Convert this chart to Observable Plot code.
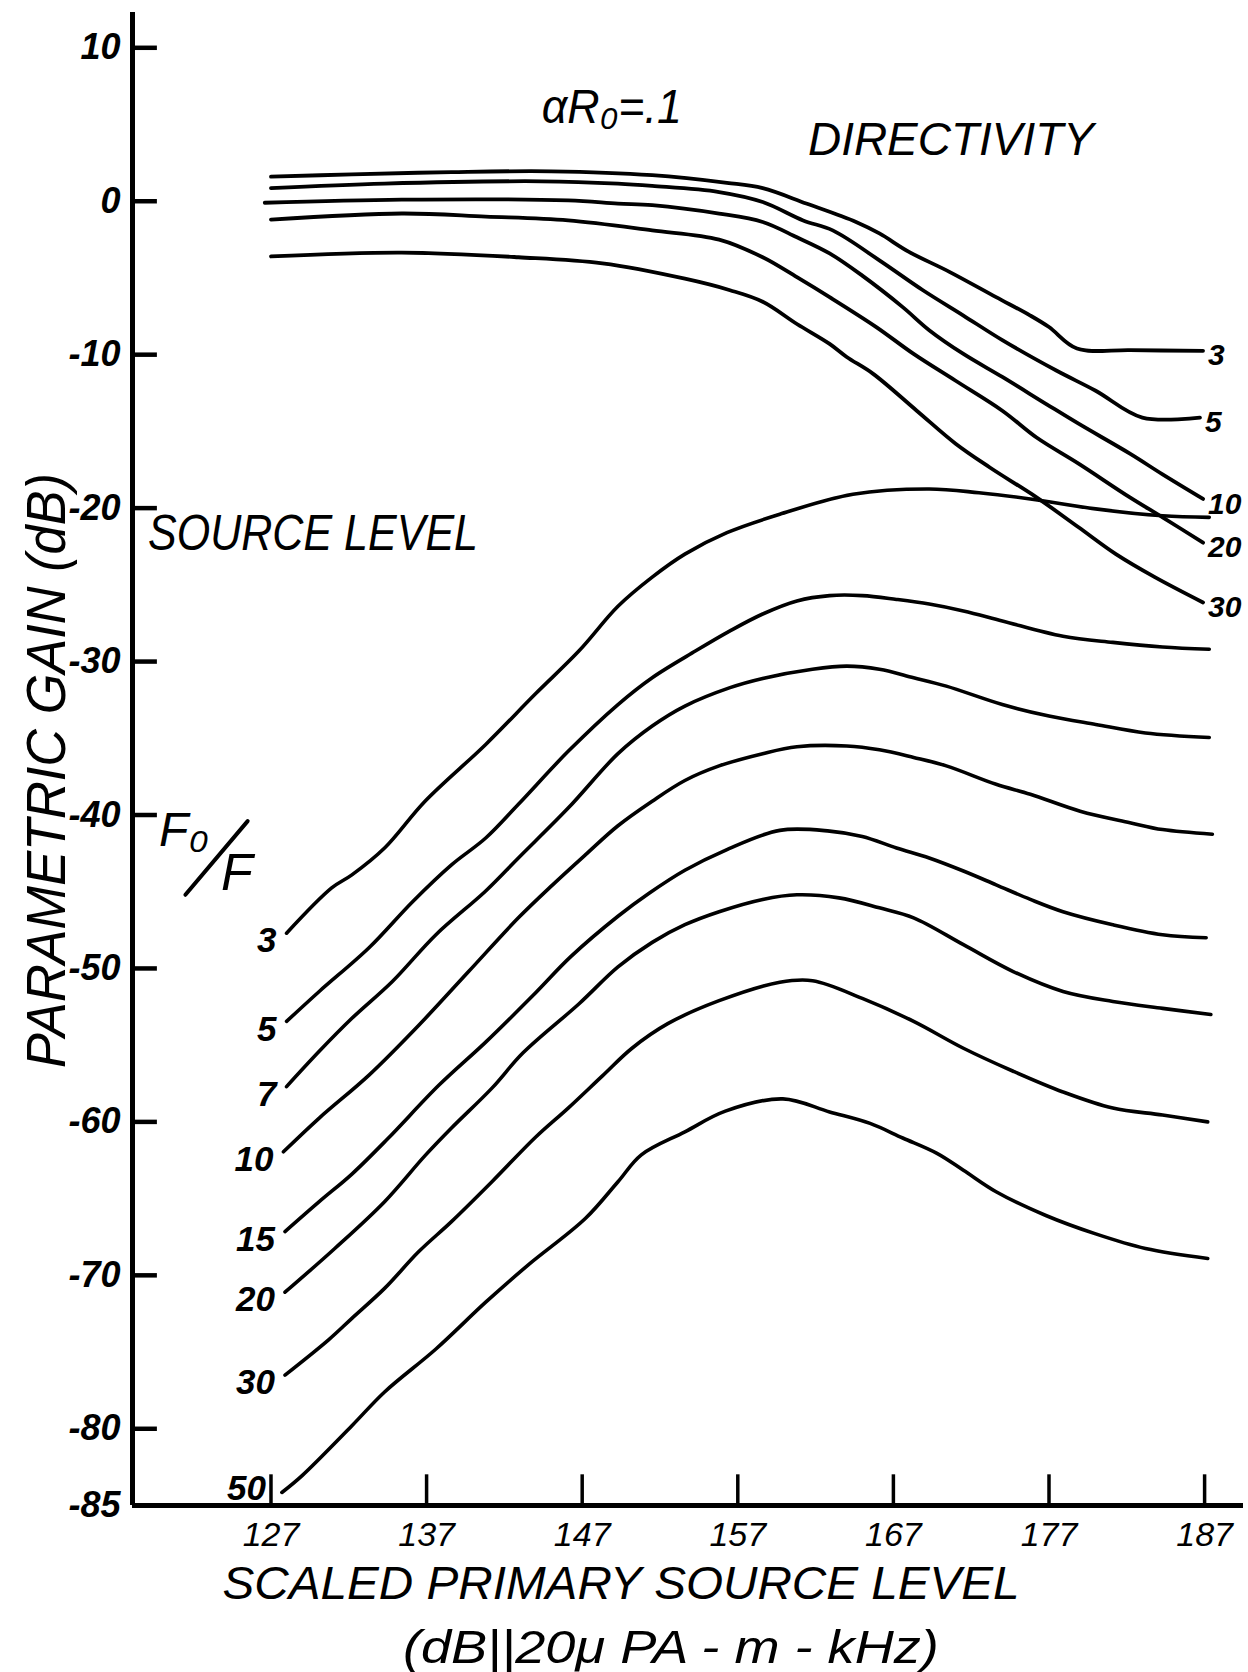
<!DOCTYPE html>
<html>
<head>
<meta charset="utf-8">
<script src="https://cdn.jsdelivr.net/npm/d3@7"></script>
<script src="https://cdn.jsdelivr.net/npm/@observablehq/plot@0.6"></script>
<style>
  html, body { margin: 0; padding: 0; background: #fff; }
  #chart svg { display: block; }
</style>
</head>
<body>
<div id="chart"></div>
<script>
// ---- Data (x = scaled primary source level, y = parametric gain dB) ----
const xTicks = [127, 137, 147, 157, 167, 177, 187];
const yTicks = [10, 0, -10, -20, -30, -40, -50, -60, -70, -80, -85];

// Upper family: directivity curves
const directivityNames = ["3", "5", "10", "20", "30"];
const directivity3 = [[127,1.6],[132.2,1.75],[138.6,1.9],[145,1.95],[151.5,1.7],[156.3,1.2],[158.6,0.85],[161.4,-0.15],[164.6,-1.35],[166.1,-2.1],[168,-3.3],[170.6,-4.6],[173.6,-6.25],[175.8,-7.45],[177,-8.2],[178.8,-9.6],[182.2,-9.7],[186.9,-9.75]];
const directivity5 = [[127,0.85],[134.3,1.15],[144.4,1.3],[149.3,1.15],[151.5,1.0],[155.8,0.6],[158.6,-0.05],[161.2,-1.25],[163.1,-1.9],[166.1,-3.85],[168.9,-5.8],[171.5,-7.45],[174,-9.05],[177.5,-11.05],[180,-12.35],[183,-14.1],[186.7,-14.1]];
const directivity10 = [[126.6,-0.1],[135.4,0.1],[146.1,0.05],[149.3,-0.15],[151.5,-0.25],[155.8,-0.8],[158.6,-1.35],[160.8,-2.35],[162.9,-3.4],[165,-4.85],[167.6,-6.9],[169.3,-8.4],[171.5,-9.95],[174,-11.45],[176.8,-13.2],[178.9,-14.5],[182.2,-16.45],[184.3,-17.8],[186.9,-19.4]];
const directivity20 = [[127,-1.2],[135.4,-0.8],[140.8,-1.0],[146.1,-1.25],[151.5,-1.9],[155.8,-2.5],[158.6,-3.65],[160.8,-4.95],[162.9,-6.25],[165.9,-8.2],[168.3,-9.95],[171,-11.7],[174,-13.65],[176.2,-15.4],[178.9,-17.1],[182.2,-19.3],[184.3,-20.6],[186.9,-22.25]];
const directivity30 = [[127,-3.6],[135.4,-3.35],[142.9,-3.65],[148.3,-4.05],[153.6,-5.05],[156.5,-5.8],[158.6,-6.55],[160.8,-8.0],[162.9,-9.3],[164,-10.15],[165.7,-11.25],[168.5,-13.65],[171,-15.8],[173.2,-17.35],[176.2,-19.3],[178.9,-21.25],[181.3,-23],[183.8,-24.5],[186.9,-26.15]];

// Lower family: source level curves, F0/F ratio
const ratioNames = ["3", "5", "7", "10", "15", "20", "30", "50"];
const ratio3 = [[128,-47.7],[130.9,-44.75],[132.2,-43.9],[134.3,-42.15],[136.9,-39.1],[140.8,-35.4],[144,-32.1],[146.8,-29.3],[149.3,-26.4],[151.5,-24.5],[153.6,-23],[156.3,-21.6],[159.7,-20.4],[164.4,-19.1],[169.3,-18.75],[172.5,-19],[175.8,-19.4],[180,-20.05],[184.3,-20.5],[187.3,-20.6]];
const ratio5 = [[128,-53.45],[130.1,-51.5],[133.3,-48.65],[136.1,-45.65],[138.6,-43.25],[140.8,-41.5],[142.9,-39.3],[146.1,-35.85],[149.3,-32.8],[151.5,-31.05],[154.3,-29.3],[156.5,-28],[158.6,-26.9],[160.8,-26.05],[162.9,-25.7],[165,-25.7],[167.2,-25.95],[169.3,-26.25],[171.5,-26.7],[174,-27.35],[177.9,-28.35],[181.1,-28.75],[184.3,-29.05],[187.3,-29.2]];
const ratio7 = [[128,-57.7],[130.1,-55.4],[132.2,-53.25],[134.8,-50.85],[137.6,-47.8],[140.8,-44.95],[142.9,-42.8],[146.1,-39.55],[149.3,-36.0],[151.5,-34.2],[153.6,-32.9],[156.5,-31.7],[158.6,-31.1],[161.8,-30.5],[164,-30.3],[166.1,-30.5],[168.3,-31.05],[170.4,-31.6],[174,-32.8],[177,-33.55],[180,-34.1],[183.2,-34.65],[187.3,-34.95]];
const ratio10 = [[127.8,-61.95],[130.1,-59.75],[133.3,-56.95],[136.5,-53.7],[139.7,-50.2],[142.9,-46.7],[145.1,-44.55],[147.2,-42.6],[149.3,-40.7],[151.5,-39.1],[153.6,-37.75],[155.8,-36.8],[158.6,-36.0],[160.8,-35.55],[164,-35.5],[166.1,-35.75],[168.3,-36.25],[170.4,-36.8],[173.6,-38],[175.8,-38.65],[179,-39.75],[182.2,-40.5],[184.3,-40.95],[187.5,-41.25]];
const ratio15 = [[127.9,-67.15],[130.1,-65.2],[132.2,-63.4],[134.5,-61.1],[137.8,-57.6],[140.8,-54.8],[143.8,-51.8],[146.3,-49.2],[149.3,-46.6],[151.3,-45.1],[153.6,-43.6],[156.2,-42.3],[159.7,-41.0],[162.9,-41.05],[165,-41.4],[167.2,-42.15],[169.3,-42.8],[171.5,-43.65],[173.6,-44.55],[175.8,-45.5],[177.9,-46.3],[181.1,-47.15],[184.3,-47.8],[187.1,-48]];
const ratio20 = [[127.9,-71.1],[131.1,-68.25],[134.3,-65.2],[136.9,-62.2],[138.6,-60.4],[141.2,-57.8],[143.2,-55.5],[146.8,-52.3],[149.3,-49.9],[151.5,-48.3],[153.6,-47.15],[155.8,-46.3],[158.6,-45.5],[160.8,-45.2],[163.5,-45.4],[166.1,-46.05],[168.3,-46.7],[171.5,-48.45],[174.7,-50.2],[177.9,-51.5],[181.1,-52.15],[184.3,-52.6],[187.4,-53]];
const ratio30 = [[127.9,-76.5],[130.7,-74.2],[132.2,-72.8],[134.3,-70.85],[136.5,-68.45],[138.6,-66.5],[141.2,-63.9],[144,-61.0],[146.1,-59.1],[148.3,-57.0],[150.2,-55.2],[152.5,-53.6],[155.8,-52.1],[159.7,-50.9],[161.8,-50.8],[165,-51.95],[168.3,-53.45],[171.5,-55.2],[174.7,-56.7],[177.9,-58.05],[181.1,-59.1],[184.3,-59.55],[187.2,-60]];
const ratio50 = [[127.7,-84.15],[129,-83.05],[132.2,-79.8],[134.3,-77.6],[137.6,-74.8],[140.8,-71.75],[143.5,-69.35],[147.2,-66.3],[149.3,-63.9],[150.8,-62.15],[153.6,-60.65],[156.2,-59.3],[159.9,-58.5],[162.9,-59.35],[165.5,-60.1],[167.6,-61.05],[169.8,-62.05],[171.5,-63.15],[173.6,-64.55],[176.8,-66.1],[180,-67.3],[183.2,-68.25],[187.2,-68.9]];

// ---- Build tables ----
const directivitySeries = [directivity3, directivity5, directivity10, directivity20, directivity30];
const ratioSeries = [ratio3, ratio5, ratio7, ratio10, ratio15, ratio20, ratio30, ratio50];
const toRows = (series, names, group) => series.flatMap((pts, i) =>
  pts.map(([x, y]) => ({x, y, name: names[i], key: group + names[i]})));
const dirRows = toRows(directivitySeries, directivityNames, "D");
const ratioRows = toRows(ratioSeries, ratioNames, "F");
const dirEnds = directivitySeries.map((pts, i) => ({x: pts[pts.length - 1][0], y: pts[pts.length - 1][1], name: directivityNames[i]}));
const ratioStarts = ratioSeries.map((pts, i) => ({x: pts[0][0], y: pts[0][1], name: ratioNames[i]}));

const xMin = 118.1, xMax = 189.5, yMin = -85, yMax = 12.3;
const FONT = "'Liberation Sans', 'DejaVu Sans', Arial, sans-serif";

const chart = Plot.plot({
  width: 1248,
  height: 1672,
  marginLeft: 132,
  marginRight: 5,
  marginTop: 12,
  marginBottom: 167,
  x: {domain: [xMin, xMax], axis: null},
  y: {domain: [yMin, yMax], axis: null},
  style: {background: "#fff", color: "#000", fontFamily: FONT, fontStyle: "italic"},
  marks: [
    // axes lines
    Plot.ruleX([xMin], {y1: yMin, y2: yMax, stroke: "#000", strokeWidth: 5}),
    Plot.ruleY([yMin], {x1: xMin, x2: xMax, stroke: "#000", strokeWidth: 5}),
    // inward tick marks
    Plot.ruleY(yTicks.filter(d => d !== -85), {x1: xMin, x2: xMin + 1.6, stroke: "#000", strokeWidth: 4.5}),
    Plot.ruleX(xTicks, {y1: yMin, y2: yMin + 2, stroke: "#000", strokeWidth: 3.5}),
    // tick labels
    Plot.text(yTicks, {x: xMin, y: d => d, text: d => String(d), textAnchor: "end", dx: -12, fontSize: 36, fontWeight: "bold", fill: "#000"}),
    Plot.text(xTicks, {x: d => d, y: yMin, text: d => String(d), dy: 30, fontSize: 34, fill: "#000"}),
    // curves
    Plot.line(dirRows, {x: "x", y: "y", z: "key", stroke: "#000", strokeWidth: 3.8, curve: "catmull-rom"}),
    Plot.line(ratioRows, {x: "x", y: "y", z: "key", stroke: "#000", strokeWidth: 3.6, curve: "catmull-rom"}),
    // curve labels
    Plot.text(dirEnds, {x: "x", y: "y", text: "name", textAnchor: "start", dx: 5, dy: 5, fontSize: 30, fontWeight: "bold", fill: "#000"}),
    Plot.text(ratioStarts.slice(0, -1), {x: "x", y: "y", text: "name", textAnchor: "end", dx: -10, dy: 8, fontSize: 35, fontWeight: "bold", fill: "#000"}),
    Plot.text(ratioStarts.slice(-1), {x: "x", y: "y", text: "name", textAnchor: "end", dx: -16, dy: -4, fontSize: 35, fontWeight: "bold", fill: "#000"}),
    // annotations
    Plot.text(["αR₀=.1"], {x: 148.9, y: 6.1, fontSize: 48, fill: "#000"}),
    Plot.text(["DIRECTIVITY"], {x: 170.7, y: 4.0, fontSize: 46, fill: "#000"}),
    Plot.text(["SOURCE LEVEL"], {x: 119.1, y: -21.7, textAnchor: "start", fontSize: 50, fill: "#000"}),
    // F0/F drawn as a diagonal fraction: numerator, slash stroke, denominator
    Plot.text(["F₀"], {x: 121.4, y: -41.0, fontSize: 48, fill: "#000"}),
    Plot.link([0], {x1: 121.5, y1: -45.2, x2: 125.5, y2: -40.4, stroke: "#000", strokeWidth: 4, strokeLinecap: "round"}),
    Plot.text(["F"], {x: 124.8, y: -43.8, fontSize: 52, fill: "#000"}),
    // axis titles
    Plot.text(["PARAMETRIC GAIN (dB)"], {x: 112.6, y: -37.1, rotate: -90, fontSize: 56, fill: "#000"}),
    Plot.text(["SCALED PRIMARY SOURCE LEVEL"], {x: 149.5, y: yMin, dy: 79, fontSize: 46, fill: "#000"}),
    Plot.text(["(dB||20μ PA - m - kHz)"], {x: 152.7, y: yMin, dy: 143, fontSize: 46, fill: "#000"})
  ]
});

// Fit long hand-lettered strings to the widths in the reference
const fitWidths = {
  "PARAMETRIC GAIN (dB)": 595,
  "SCALED PRIMARY SOURCE LEVEL": 797,
  "(dB||20μ PA - m - kHz)": 536,
  "SOURCE LEVEL": 330,
  "DIRECTIVITY": 286,
  "αR₀=.1": 140
};
d3.select(chart).selectAll("text").each(function () {
  const w = fitWidths[this.textContent];
  if (w) {
    this.setAttribute("textLength", w);
    this.setAttribute("lengthAdjust", "spacingAndGlyphs");
  }
});

document.getElementById("chart").appendChild(chart);
</script>
</body>
</html>
